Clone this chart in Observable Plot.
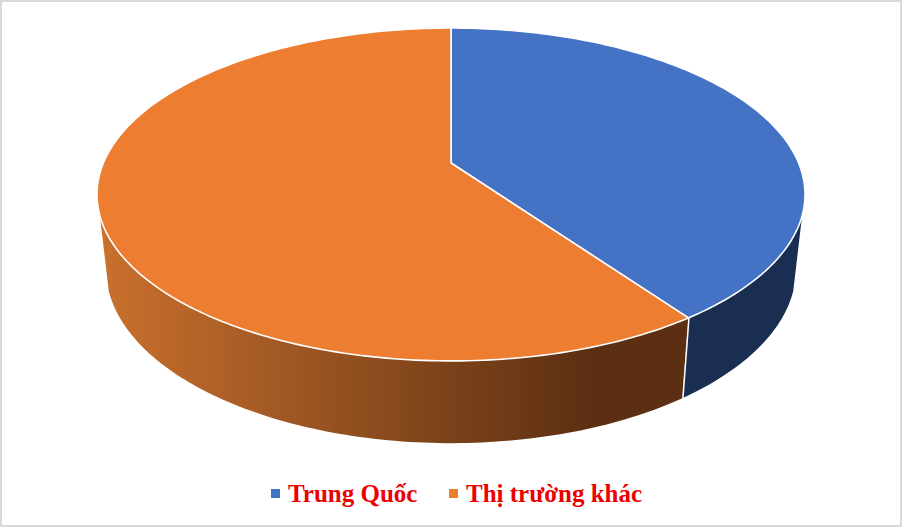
<!DOCTYPE html>
<html>
<head>
<meta charset="utf-8">
<script src="https://cdn.jsdelivr.net/npm/d3@7"></script>
<script src="https://cdn.jsdelivr.net/npm/@observablehq/plot@0.6"></script>
<style>
html,body{margin:0;padding:0;background:#fff}
#frame{position:relative;width:902px;height:527px;overflow:hidden;outline:2px solid #d9d9d9;outline-offset:-2px}
#chart svg{display:block}
#legend{position:absolute;left:0;top:477px;width:100%;height:32px;font:bold 25px "Liberation Serif",serif;color:#ec0000}
#legend span.k{position:absolute;top:12px;width:9px;height:9px}
#legend span.t{position:absolute;top:2px;white-space:nowrap;line-height:30px}
</style>
</head>
<body>
<div id="frame"><div id="chart"></div><div id="legend"></div></div>
<script>
const categories = ["Trung Quốc", "Thị trường khác"];
const shares = [40.2, 59.8];
const topColors = ["#4472c4", "#ed7d31"];
const wallColor = "#1a2e52";
const wallLight = "#ca712d", wallDark = "#5c2f12";

// Perspective disc model (radius-normalised units)
const W = 902, H = 472, unit = 354, cxPx = 451, cyPx = 163;
const k = 0.189;
const topDisc = {a: 0.982, b: 160.5 / unit, c: 0};
const lowDisc = {a: 338.8 / unit, b: 168 / unit, c: -73 / unit};
const rimRight = 108, rimLeft = 252; // angles where the wall meets the silhouette
const at = (d, deg) => {
  const r = deg * Math.PI / 180, u = Math.sin(r), v = Math.cos(r), s = 1 + k * v;
  return {x: d.a * u / s, y: d.c + d.b * v / s};
};
const total = d3.sum(shares);
let acc = 0;
const slices = shares.map((s, i) => {
  const start = acc; acc += s / total * 360;
  return {name: categories[i], start, end: acc, i};
});
const arcAngles = (a, b, step = 1) => {
  const out = d3.range(a, b, step); out.push(b); return out;
};
const wallRows = (a, b) => arcAngles(a, b).map(deg => {
  const p = at(topDisc, deg), q = at(lowDisc, deg);
  return {x1: p.x, y1: p.y, x2: q.x, y2: q.y};
});
const sectorRows = s => arcAngles(s.start, s.end).map(deg => {
  const p = at(topDisc, deg);
  return {x1: 0, y1: 0, x2: p.x, y2: p.y};
});

const [blue, orange] = slices;
const edge = [at(topDisc, blue.end), at(lowDisc, blue.end)];
const area = (data, o) => Plot.area(data, {x1: "x1", y1: "y1", x2: "x2", y2: "y2", ...o});

// Horizontal light-to-dark shading of the orange wall
const wallGradient = () => {
  const defs = d3.create("svg:defs");
  const g = defs.append("linearGradient").attr("id", "orangeWall")
    .attr("gradientUnits", "userSpaceOnUse")
    .attr("x1", 97).attr("x2", 590).attr("y1", 0).attr("y2", 0);
  g.append("stop").attr("offset", 0).attr("stop-color", wallLight);
  g.append("stop").attr("offset", 1).attr("stop-color", wallDark);
  return defs.node();
};

const plot = Plot.plot({
  width: W, height: H, margin: 0,
  style: {background: "transparent"},
  x: {domain: [-cxPx / unit, (W - cxPx) / unit], range: [0, W], axis: null},
  y: {domain: [(cyPx - H) / unit, cyPx / unit], range: [H, 0], axis: null},
  marks: [
    wallGradient,
    area(wallRows(orange.start, rimLeft), {fill: "url(#orangeWall)"}),
    area(wallRows(rimRight, blue.end), {fill: wallColor}),
    Plot.line(edge, {x: "x", y: "y", stroke: "white", strokeWidth: 1.5}),
    ...slices.map((s, i) => area(sectorRows(s), {fill: topColors[i], stroke: "white", strokeWidth: 1.6, strokeLinejoin: "round"}))
  ]
});
document.getElementById("chart").append(plot);

const legend = document.getElementById("legend");
[[271, 288], [449, 466]].forEach(([kx, tx], i) => {
  const sw = document.createElement("span");
  sw.className = "k"; sw.style.left = kx + "px"; sw.style.background = topColors[i];
  const t = document.createElement("span");
  t.className = "t"; t.style.left = tx + "px"; t.textContent = categories[i];
  legend.append(sw, t);
});
</script>
</body>
</html>
